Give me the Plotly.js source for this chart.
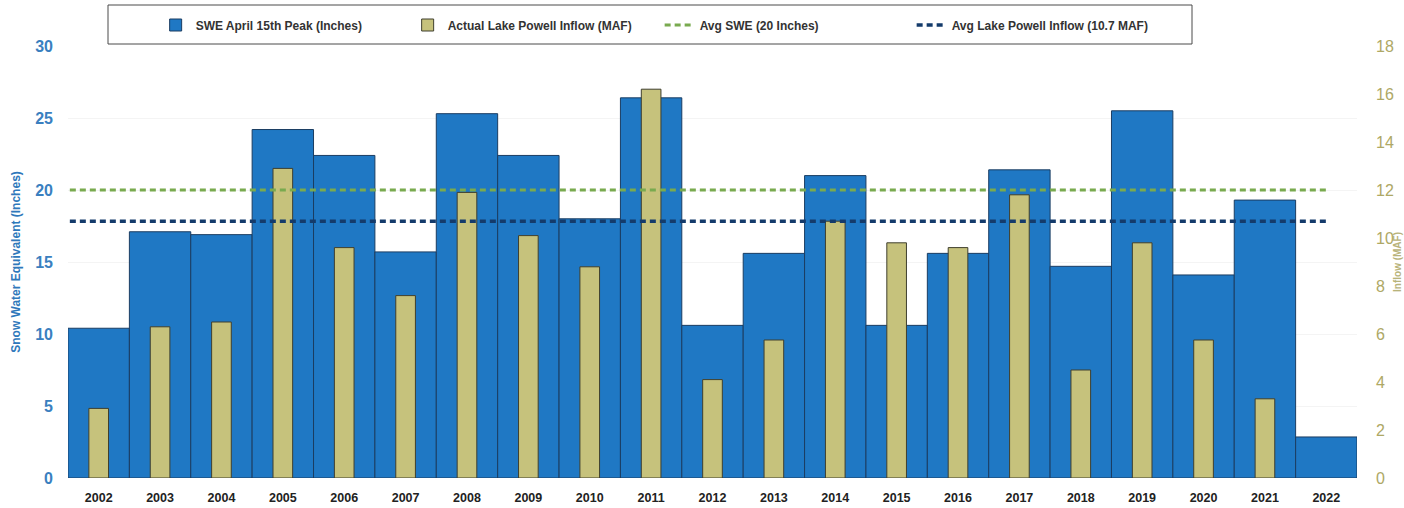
<!DOCTYPE html>
<html>
<head>
<meta charset="utf-8">
<script src="https://cdn.plot.ly/plotly-3.0.1.min.js"></script>
<style>
  html, body { margin: 0; padding: 0; background: #ffffff; }
  #chart { width: 1404px; height: 508px; }
</style>
</head>
<body>
<div id="chart"></div>
<script>
// ---- Data ----
const years = ['2002','2003','2004','2005','2006','2007','2008','2009','2010','2011','2012',
               '2013','2014','2015','2016','2017','2018','2019','2020','2021','2022'];
const sweApril15 = [10.4, 17.1, 16.9, 24.2, 22.4, 15.7, 25.3, 22.4, 18.0, 26.4, 10.6,
                    15.6, 21.0, 10.6, 15.6, 21.4, 14.7, 25.5, 14.1, 19.3, 2.85];
const powellInflow = [2.9, 6.3, 6.5, 12.9, 9.6, 7.6, 11.9, 10.1, 8.8, 16.2, 4.1,
                      5.75, 10.7, 9.8, 9.6, 11.8, 4.5, 9.8, 5.75, 3.3, null];
const avgSwe = 20;
const avgInflow = 10.7;
const sweTicks = [0, 5, 10, 15, 20, 25, 30];
const inflowTicks = [0, 2, 4, 6, 8, 10, 12, 14, 16, 18];

const seriesNames = ['SWE April 15th Peak (Inches)', 'Actual Lake Powell Inflow (MAF)',
                     'Avg SWE (20 Inches)', 'Avg Lake Powell Inflow (10.7 MAF)'];
const leftTitle = 'Snow Water Equivalent (Inches)';
const rightTitle = 'Inflow (MAF)';

// ---- Build traces ----
const idx = years.map((_, i) => i);
const lineX = [-0.47, years.length - 1];

const traces = [
  {
    type: 'bar', name: seriesNames[0], x: idx, y: sweApril15, width: 1,
    marker: { color: '#1f78c4', line: { color: '#1b3d62', width: 1 } },
    yaxis: 'y', hoverinfo: 'y'
  },
  {
    type: 'bar', name: seriesNames[1], x: idx, y: powellInflow, width: 0.32,
    marker: { color: '#c6c27c', line: { color: '#3f3f2e', width: 1 } },
    yaxis: 'y2', hoverinfo: 'y'
  },
  {
    type: 'scatter', mode: 'lines', name: seriesNames[2], x: lineX, y: [avgSwe, avgSwe],
    line: { color: '#79aa4f', width: 3, dash: '6px,4px' },
    yaxis: 'y3', hoverinfo: 'y'
  },
  {
    type: 'scatter', mode: 'lines', name: seriesNames[3], x: lineX, y: [avgInflow, avgInflow],
    line: { color: '#143b6b', width: 3.5, dash: '6px,4px' },
    yaxis: 'y2', hoverinfo: 'y'
  }
];

const baseFont = 'Liberation Sans, Arial, sans-serif';

const layout = {
  width: 1404, height: 508,
  margin: { l: 68, r: 47, t: 46, b: 30, autoexpand: false },
  paper_bgcolor: '#ffffff', plot_bgcolor: '#ffffff',
  barmode: 'overlay',
  showlegend: true,
  legend: {
    orientation: 'h', x: 0.068, xanchor: 'left', y: 1.0486, yanchor: 'middle',
    borderwidth: 0, bgcolor: 'rgba(0,0,0,0)',
    font: { family: baseFont, size: 12, color: '#333333', weight: 'bold' },
    entrywidth: 207, entrywidthmode: 'pixels', traceorder: 'normal',
    itemwidth: 30
  },
  shapes: [
    { type: 'rect', xref: 'paper', yref: 'paper', layer: 'below',
      x0: (108 - 68) / 1289, x1: (1192 - 68) / 1289,
      y0: 1 + (46 - 44) / 432, y1: 1 + (46 - 5) / 432,
      line: { color: '#4a4a4a', width: 1 }, fillcolor: 'rgba(0,0,0,0)' }
  ],
  annotations: [
    { text: rightTitle, xref: 'paper', yref: 'paper', x: 1.031, y: 0.5,
      xanchor: 'center', yanchor: 'middle', textangle: -90, showarrow: false,
      font: { family: baseFont, size: 10, color: '#b8b37a', weight: 'bold' } }
  ],
  xaxis: {
    range: [-0.5, years.length - 0.5],
    tickmode: 'array', tickvals: idx, ticktext: years,
    showgrid: false, zeroline: false, showline: false, ticks: '',
    tickfont: { family: baseFont, size: 12.5, color: '#222222', weight: 'bold' },
    ticklabelstandoff: 10
  },
  yaxis: {
    range: [0, 30], tickmode: 'array', tickvals: sweTicks,
    showgrid: true, gridcolor: '#f4f4f4', zeroline: false, showline: false, ticks: '',
    tickfont: { family: baseFont, size: 16, color: '#3a7fbf', weight: 'bold' },
    ticklabelstandoff: 14,
    title: { text: leftTitle, standoff: 12,
             font: { family: baseFont, size: 12, color: '#2f78bb', weight: 'bold' } }
  },
  yaxis2: {
    range: [0, 18], overlaying: 'y', side: 'right', tickmode: 'array', tickvals: inflowTicks,
    showgrid: false, zeroline: false, showline: false, ticks: '',
    tickfont: { family: baseFont, size: 16, color: '#aea865' },
    ticklabelstandoff: 18
  },
  yaxis3: {
    range: [0, 30], overlaying: 'y', side: 'left', visible: false,
    showgrid: false, zeroline: false
  }
};

Plotly.newPlot('chart', traces, layout, { displayModeBar: false, staticPlot: true });
</script>
</body>
</html>
